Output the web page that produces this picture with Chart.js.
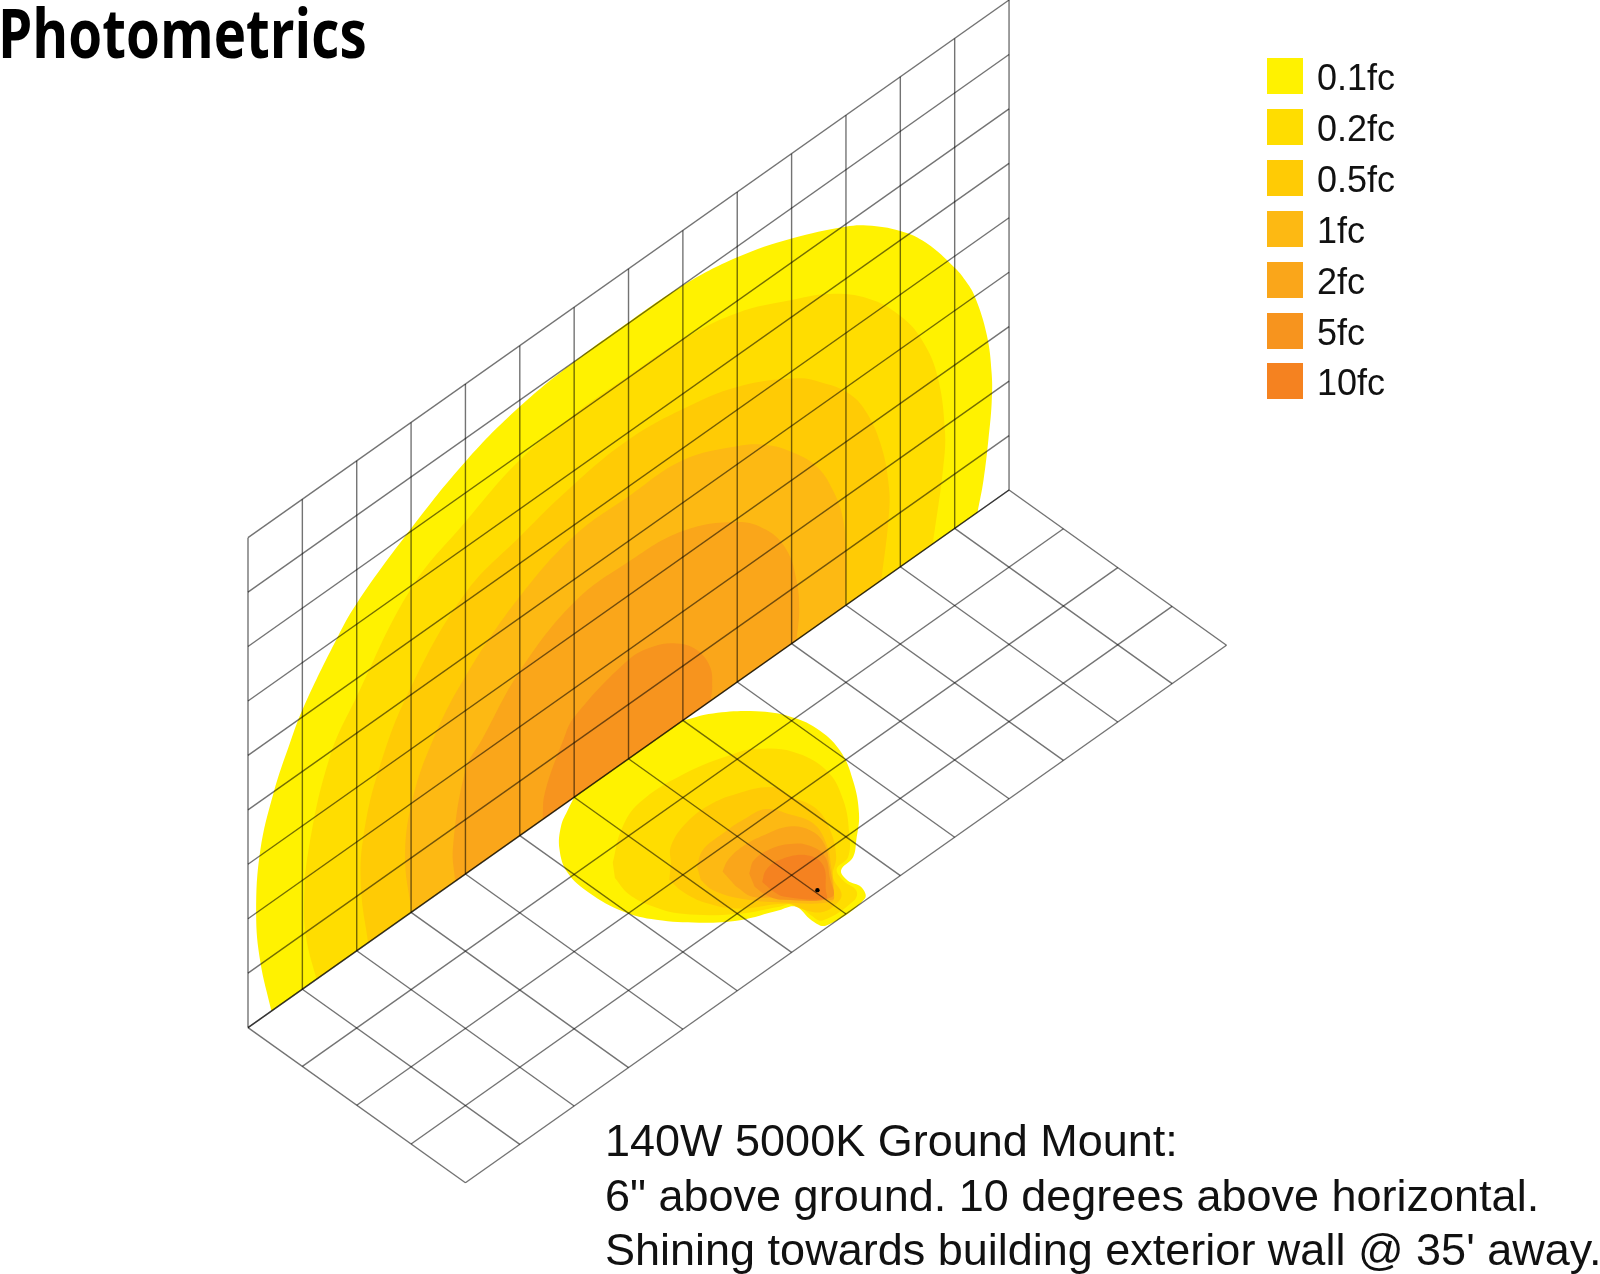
<!DOCTYPE html>
<html>
<head>
<meta charset="utf-8">
<title>Photometrics</title>
<script src="https://cdn.jsdelivr.net/npm/chart.js@4"></script>
<style>
  html, body { margin: 0; padding: 0; background: #fff; overflow: hidden; }
  #page { position: relative; width: 1600px; height: 1274px; overflow: hidden; }
  canvas { position: absolute; left: 0; top: 0; }
  #title { position: absolute; left: -2px; top: -15px; font: 700 68px "Open Sans", sans-serif; color: #000; transform: scaleX(.805); transform-origin: left top; white-space: nowrap; }
  .swatch { position: absolute; left: 1267px; width: 36px; height: 36px; }
  .label { position: absolute; left: 1317px; font: 36px/40px "Liberation Sans", Arial, sans-serif; color: #111; white-space: nowrap; }
  #note { position: absolute; left: 605px; top: 1114px; font: 45px/54.5px "Liberation Sans", Arial, sans-serif; color: #111; white-space: nowrap; }
</style>
</head>
<body>
<div id="page">
  <canvas id="chart" width="1600" height="1274"></canvas>
  <div id="title">Photometrics</div>
  <div id="legend"></div>
  <div id="note">140W 5000K Ground Mount:<br>6" above ground. 10 degrees above horizontal.<br>Shining towards building exterior wall @ 35' away.</div>
</div>
<script>
const levelLabels = ['0.1fc', '0.2fc', '0.5fc', '1fc', '2fc', '5fc', '10fc']
const levelColors = ['#FFF200', '#FFDD00', '#FFCB05', '#FDB913', '#FAA61A', '#F7941E', '#F58220']

// grid lines, in cells
const wallColumns = [0, 1, 2, 3, 4, 5, 6, 7, 8, 9, 10, 11, 12, 13, 14]
const wallRows = [0, 1, 2, 3, 4, 5, 6, 7, 8, 9]
const groundRows = [0, 1, 2, 3, 4]

// wall contours as [cells along the wall, cells up the wall]
const wall01 = [[.43, 0], [.225, 1.06], [.15, 1.99], [.225, 3.09], [.47, 3.98], [.77, 4.68], [1, 5.13], [1.6, 5.95], [2, 6.38], [3, 7.05], [4.01, 7.58], [5, 7.88], [6, 8], [7, 8.02], [7.99, 7.99], [9, 7.8], [10, 7.44], [10.99, 6.96], [11.39, 6.7], [12, 6.17], [12.48, 5.61], [13, 4.79], [13.19, 4.43], [13.37, 4], [13.59, 3.14], [13.68, 2.37], [13.68, 1.82], [13.62, 1.19], [13.53, .51], [13.42, 0]]
const wall02 = [[1.26, 0], [1.08, .83], [1.03, 1.5], [1.11, 2.46], [1.5, 3.9], [2, 4.67], [3, 5.95], [4, 6.47], [5, 6.9], [6, 7.03], [7, 7.03], [8, 7], [9, 6.78], [10, 6.31], [10.8, 5.86], [11.5, 5.25], [12.02, 4.58], [12.36, 3.97], [12.67, 3.08], [12.82, 1.93], [12.79, 1.27], [12.6, 0]]
const wall05 = [[2.21, 0], [2.08, 1.08], [2.12, 1.99], [2.43, 3.1], [3, 4.14], [4, 5.16], [5, 5.49], [6, 5.75], [7, 5.86], [8, 5.72], [9, 5.42], [10.09, 4.81], [10.58, 4.38], [11, 3.92], [11.32, 3.4], [11.63, 2.54], [11.79, 1.62], [11.78, 1], [11.65, 0]]
const wall1 = [[3.01, 0], [2.89, 1.07], [3.01, 2], [3.4, 2.88], [4, 3.63], [5, 4.39], [6, 4.8], [7, 4.82], [8, 4.78], [9, 4.33], [9.53, 3.98], [10, 3.52], [10.46, 2.93], [10.76, 2.28], [10.95, 1.6], [11, .8], [10.98, 0]]
const wall2 = [[3.81, 0], [3.77, .64], [4.01, 1.93], [4.3, 2.25], [5, 3.02], [6, 3.58], [7, 3.62], [8, 3.48], [9, 2.94], [9.54, 2.41], [9.91, 1.78], [10.09, 1.1], [10.14, .51], [10.09, 0]]
const wall5 = [[5.42, 0], [5.46, .46], [5.8, 1.19], [6, 1.47], [7, 1.82], [7.46, 1.74], [7.89, 1.49], [8.25, 1.12], [8.5, .63], [8.54, .24], [8.51, 0]]
const wallContours = [wall01, wall02, wall05, wall1, wall2, wall5]

// ground contours as [cells along the wall, cells out from the wall]
const ground01 = [[8, 0], [8.367, .185], [8.796, .554], [9.038, .925], [9.132, 1.322], [9.065, 1.818], [8.798, 2.33], [8.42, 2.82], [8.05, 3.14], [7.8, 3.33], [7.52, 3.39], [7.45, 3.58], [7.49, 3.79], [7.37, 3.975], [6.67, 3.97], [6.6, 3.77], [6.63, 3.45], [6.43, 3.34], [5.94, 3.11], [5.53, 2.77], [5.17, 2.34], [4.97, 1.92], [4.9, 1.38], [4.96, .92], [5.19, .54], [5.51, .25], [5.79, .1], [6, 0]]
const ground02 = [[5.51, 1.2], [6.02, .85], [6.53, .67], [7.3, .7], [8.07, .91], [8.31, 1.04], [8.61, 1.41], [8.68, 1.96], [8.45, 2.5], [8.07, 2.99], [7.76, 3.28], [7.5, 3.33], [7.41, 3.54], [7.4, 3.79], [7.25, 3.9], [6.7, 3.87], [6.66, 3.7], [6.67, 3.41], [6.48, 3.3], [5.99, 3], [5.49, 2.5], [5.31, 2.13], [5.25, 1.75], [5.33, 1.42]]
const ground05 = [[6.04, 1.74], [6.26, 1.52], [6.7, 1.36], [7.15, 1.34], [7.54, 1.44], [7.97, 1.69], [8.01, 1.98], [8.09, 2.36], [7.94, 2.77], [7.65, 3.17], [7.36, 3.4], [7.22, 3.7], [7.04, 3.78], [6.81, 3.76], [6.68, 3.59], [6.58, 3.32], [6.09, 2.96], [5.85, 2.58], [5.78, 2.22], [5.81, 1.94]]
const ground1 = [[6.24, 2.02], [6.51, 1.86], [6.91, 1.83], [7.27, 1.84], [7.62, 1.91], [7.77, 2.19], [7.87, 2.53], [7.73, 2.91], [7.47, 3.26], [7.15, 3.63], [7.02, 3.71], [6.57, 3.28], [6.22, 2.83], [6.08, 2.47], [6.1, 2.23]]
const ground2 = [[6.41, 2.32], [6.61, 2.22], [6.92, 2.18], [7.27, 2.23], [7.61, 2.35], [7.75, 2.58], [7.71, 2.89], [7.46, 3.24], [7.19, 3.58], [7.06, 3.69], [6.67, 3.23], [6.36, 2.92], [6.34, 2.64]]
const ground5 = [[6.63, 2.59], [6.85, 2.46], [7.16, 2.47], [7.39, 2.58], [7.54, 2.76], [7.56, 3.04], [7.33, 3.37], [7.09, 3.65], [6.6, 3.24], [6.51, 3.03], [6.51, 2.81]]
const ground10 = [[6.64, 2.82], [6.83, 2.7], [7.08, 2.69], [7.4, 2.88], [7.42, 3.16], [7.12, 3.51], [7.01, 3.62], [6.65, 3.2], [6.62, 3.01]]
const groundContours = [ground01, ground02, ground05, ground1, ground2, ground5, ground10]

const fixture = [[7.045, 3.43]]

// isometric projection of the cell units onto the page axes
const wallPoint = ([u, v]) => ({ x: 248 + 54.36 * u, y: 1027.6 - 38.4 * u - 54.44 * v })
const groundPoint = ([u, w]) => ({ x: 248 + 54.36 * (u + w), y: 1027.6 - 38.4 * u + 38.8 * w })

// repeating a point keeps the corner sharp under line tension
function closedShape(points) {
  const first = points[0]
  const last = points[points.length - 1]
  return [first, ...points, last, first]
}

function contourDataset(points, color) {
  return {
    data: points,
    backgroundColor: color,
    borderWidth: 0,
    pointRadius: 0,
    tension: 0.4,
    fill: 'shape'
  }
}

function gridDataset(points) {
  return {
    data: points,
    borderColor: 'rgba(0, 0, 0, 0.55)',
    borderWidth: 1.4,
    pointRadius: 0,
    fill: false
  }
}

const datasets = []
wallContours.forEach((c, i) => datasets.push(contourDataset(closedShape(c).map(wallPoint), levelColors[i])))
groundContours.forEach((c, i) => datasets.push(contourDataset(closedShape(c).map(groundPoint), levelColors[i])))

const lastColumn = wallColumns[wallColumns.length - 1]
const lastRow = wallRows[wallRows.length - 1]
const lastGround = groundRows[groundRows.length - 1]
wallColumns.forEach(u => {
  datasets.push(gridDataset([[u, 0], [u, lastRow]].map(wallPoint)))
  datasets.push(gridDataset([[u, 0], [u, lastGround]].map(groundPoint)))
})
wallRows.forEach(v => datasets.push(gridDataset([[0, v], [lastColumn, v]].map(wallPoint))))
groundRows.forEach(w => datasets.push(gridDataset([[0, w], [lastColumn, w]].map(groundPoint))))

datasets.push({
  data: fixture.map(groundPoint),
  backgroundColor: '#000',
  borderWidth: 0,
  pointRadius: 2.2,
  showLine: false,
  fill: false
})

// chart.js paints the first dataset last, so hand them over top first
datasets.reverse()

new Chart(document.getElementById('chart').getContext('2d'), {
  type: 'line',
  data: { datasets: datasets },
  options: {
    responsive: false,
    animation: false,
    layout: { padding: 0, autoPadding: false },
    plugins: { legend: { display: false }, tooltip: { enabled: false } },
    scales: {
      x: { type: 'linear', min: 0, max: 1600, display: false },
      y: { type: 'linear', min: 0, max: 1274, reverse: true, display: false }
    }
  }
})

const legendBox = document.getElementById('legend')
levelLabels.forEach((label, i) => {
  const top = 58 + i * 50.9
  legendBox.insertAdjacentHTML('beforeend',
    `<div class="swatch" style="top:${top}px;background:${levelColors[i]}"></div>` +
    `<div class="label" style="top:${top}px">${label}</div>`)
})
</script>
</body>
</html>
